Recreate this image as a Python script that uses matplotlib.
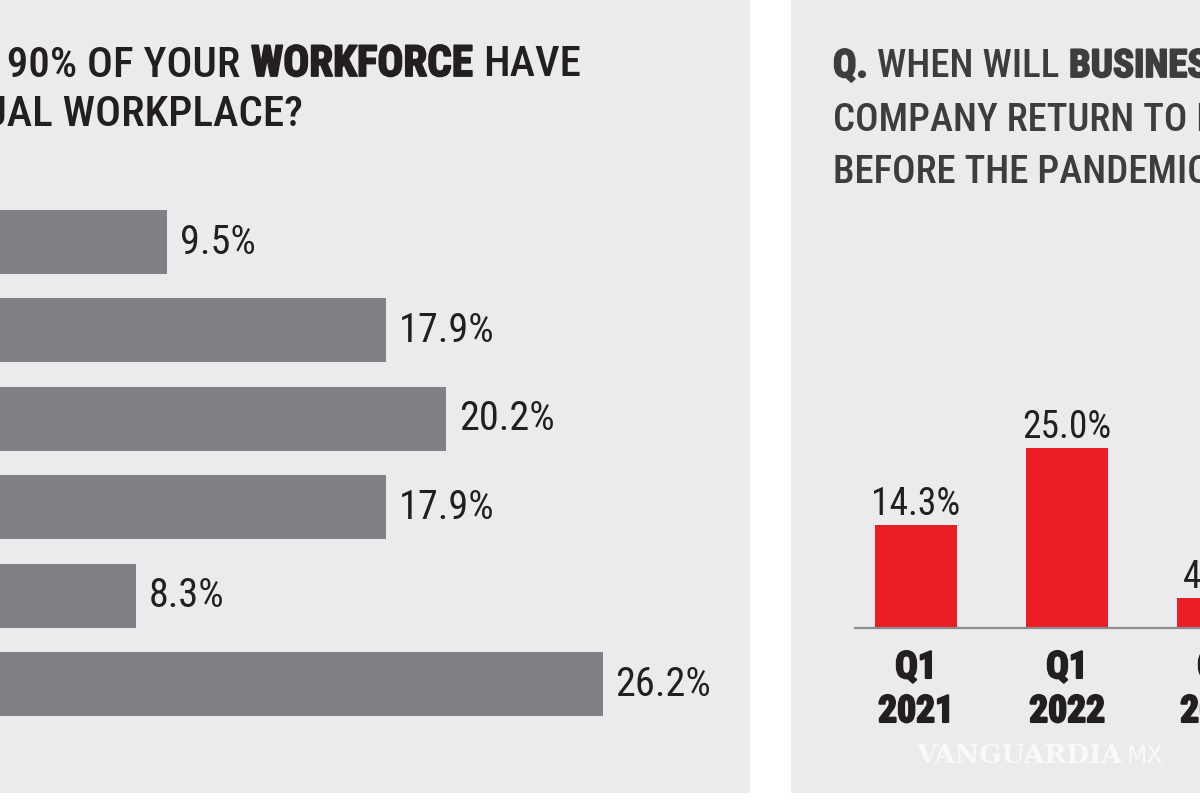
import matplotlib
matplotlib.use('Agg')
import matplotlib.pyplot as plt
import matplotlib.patheffects as pe

W, H = 1200, 800

# left chart: share of workforce answers (answer names are cut off in the source)
left_values = [9.5, 17.9, 20.2, 17.9, 8.3, 26.2]
left_labels = ['9.5%', '17.9%', '20.2%', '17.9%', '8.3%', '26.2%']

# right chart: when business returns to pre-pandemic levels (third column is cut off)
right_cats = ['Q1\n2021', 'Q1\n2022', 'Q1\n2023']
right_values = [14.3, 25.0, 4.2]
right_labels = ['14.3%', '25.0%', '4.2%']

PANEL = '#ebebed'
GRAY_BAR = '#808184'
RED_BAR = '#ec1c24'
INK = '#231f20'
INK2 = '#3d3d3f'
COND = ['Roboto Condensed', 'Liberation Sans Narrow', 'DejaVu Sans Condensed', 'Roboto', 'DejaVu Sans']

fig = plt.figure(figsize=(12, 8), dpi=100, facecolor='white')


def clean(ax):
    ax.set_facecolor(PANEL)
    for s in ax.spines.values():
        s.set_visible(False)
    ax.set_xticks([])
    ax.set_yticks([])


def thick(color, lw=1.3):
    # makes the bold condensed face look closer to the black weight in the print
    return [pe.withStroke(linewidth=lw, foreground=color)]


def rich_line(pieces, x, y, anchor=0, size=28, color=INK, align='left'):
    # pieces: (text, weight); x, y in pixels from top left
    r = fig.canvas.get_renderer()
    texts = []
    for s, w in pieces:
        t = fig.text(0, 1 - y / H, s, fontweight=w, fontsize=size, color=color,
                     family=COND, va='baseline', ha='left')
        if w == 'heavy':
            t.set_path_effects(thick(color))
        texts.append(t)
    widths = [t.get_window_extent(r).width for t in texts]
    gap = 0.24 * size * 100 / 72
    starts = [0]
    for wd in widths[:-1]:
        starts.append(starts[-1] + wd + gap)
    if align == 'right':
        shift = x - (starts[-1] + widths[-1])
    else:
        shift = x - starts[anchor]
    for t, s0 in zip(texts, starts):
        t.set_x((s0 + shift) / W)


# ---- left panel ----
axL = fig.add_axes([0, 7 / H, 750 / W, 793 / H])
clean(axL)
pxL = 26.05    # pixels per percent
pitchL = 88.4  # pixels between bars
axL.set_xlim(80 / pxL, (750 + 80) / pxL)
axL.set_ylim((793 - 242) / pitchL, -242 / pitchL)
pos = list(range(len(left_values)))
axL.barh(pos, left_values, height=64 / pitchL, color=GRAY_BAR, left=0)
for i, (v, lab) in enumerate(zip(left_values, left_labels)):
    axL.text(v + 13 / pxL, i, lab, va='center', ha='left', fontsize=29,
             family=COND, color=INK)

rich_line([('Q. WILL AT LEAST 90% OF YOUR', 'medium'), ('WORKFORCE', 'heavy'), ('HAVE', 'medium')],
          251, 76, anchor=1, size=31)
rich_line([('A VIRTUAL WORKPLACE?', 'medium')], 303, 126, size=31, align='right')

# ---- right panel ----
axR = fig.add_axes([791 / W, 7 / H, 409 / W, 793 / H])
clean(axR)
pitchR = 151.0
pyR = 7.2
axR.set_xlim(-125 / pitchR, (409 - 125) / pitchR)
axR.set_ylim(-(793 - 628) / pyR, 628 / pyR)
xs = list(range(len(right_values)))
axR.bar(xs, right_values, width=82 / pitchR, color=RED_BAR, zorder=2)
axR.axhline(0, xmin=(855 - 791) / 409, xmax=1, color='#8c8c8e', lw=1.6, zorder=3)
for i, (v, lab, cat) in enumerate(zip(right_values, right_labels, right_cats)):
    axR.text(i, v + 10 / pyR, lab, ha='center', va='baseline', fontsize=27,
             family=COND, color=INK)
    q, yr = cat.split('\n')
    for yy, s in ((-50, q), (-94, yr)):
        axR.text(i, yy / pyR, s, ha='center', va='baseline', fontsize=27,
                 family=COND, fontweight='heavy', color=INK, path_effects=thick(INK, 1.5))

rich_line([('Q.', 'heavy'), ('WHEN WILL', 'medium'), ('BUSINESS', 'heavy'), ('AT YOUR', 'medium')],
          833, 77, size=28, color=INK2)
rich_line([('COMPANY RETURN TO LEVELS', 'medium')], 833, 131, size=28, color=INK2)
rich_line([('BEFORE THE PANDEMIC?', 'medium')], 833, 183, size=28, color=INK2)

# watermark
fig.text(1122 / W, 1 - 763 / H, 'VANGUARDIA', ha='right', va='baseline', fontsize=19,
         family=['DejaVu Serif'], fontweight='bold', color='white', alpha=0.75)
fig.text(1127 / W, 1 - 763 / H, 'MX', ha='left', va='baseline', fontsize=17,
         family=['DejaVu Sans'], color='white', alpha=0.75)

fig.savefig('out.png', dpi=100, facecolor='white')
